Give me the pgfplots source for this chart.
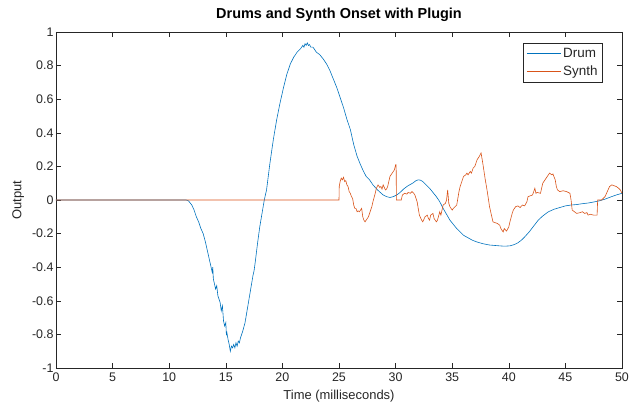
\documentclass[border=0pt]{standalone}
\usepackage{fontspec}
\setmainfont{Liberation Sans}
\usepackage{pgfplots}
\pgfplotsset{compat=1.18}

\definecolor{mblue}{rgb}{0,0.447,0.741}
\definecolor{morange}{rgb}{0.85,0.325,0.098}
\definecolor{axgray}{rgb}{0.15,0.15,0.15}

% Drum response (time in ms, output)
\pgfplotstableread{
t y
0 0
11.5 0
11.7 -0.005
12.0 -0.03
12.2 -0.06
12.4 -0.1
12.6 -0.13
12.8 -0.17
13.0 -0.2
13.2 -0.25
13.4 -0.31
13.6 -0.37
13.7 -0.4
13.8 -0.43
13.85 -0.40
13.9 -0.47
14.0 -0.50
14.1 -0.53
14.2 -0.51
14.3 -0.57
14.5 -0.61
14.6 -0.66
14.7 -0.63
14.8 -0.72
14.9 -0.75
15.0 -0.73
15.05 -0.80
15.1 -0.79
15.2 -0.83
15.3 -0.86
15.4 -0.90
15.5 -0.87
15.6 -0.88
15.7 -0.86
15.8 -0.88
15.9 -0.85
16.0 -0.87
16.1 -0.84
16.2 -0.85
16.3 -0.82
16.5 -0.78
16.7 -0.73
16.9 -0.65
17.0 -0.61
17.2 -0.53
17.4 -0.45
17.5 -0.42
17.6 -0.37
17.8 -0.26
18.0 -0.16
18.2 -0.08
18.4 0.0
18.6 0.06
18.9 0.22
19.2 0.36
19.5 0.48
19.8 0.58
20.1 0.67
20.4 0.75
20.7 0.81
21.0 0.85
21.3 0.88
21.6 0.90
21.8 0.92
21.9 0.91
22.0 0.93
22.1 0.92
22.2 0.935
22.3 0.92
22.4 0.925
22.5 0.91
22.7 0.91
23.0 0.88
23.3 0.865
23.6 0.84
23.9 0.81
24.2 0.77
24.5 0.72
24.8 0.67
25.1 0.61
25.4 0.55
25.7 0.48
26.0 0.42
26.3 0.33
26.6 0.26
26.9 0.21
27.1 0.18
27.4 0.14
27.7 0.12
28.0 0.09
28.4 0.06
28.9 0.03
29.2 0.02
29.5 0.015
29.8 0.02
30.1 0.03
30.4 0.045
30.7 0.065
31.1 0.085
31.5 0.10
31.8 0.115
32.0 0.12
32.2 0.118
32.4 0.11
32.7 0.09
33.0 0.07
33.3 0.045
33.6 0.02
33.9 -0.01
34.2 -0.05
34.5 -0.085
34.8 -0.12
35.1 -0.145
35.4 -0.17
35.7 -0.19
36.0 -0.21
36.4 -0.225
36.8 -0.24
37.2 -0.25
37.7 -0.26
38.3 -0.268
39.0 -0.272
39.6 -0.275
40.1 -0.273
40.5 -0.265
40.8 -0.255
41.1 -0.24
41.4 -0.22
41.8 -0.19
42.2 -0.155
42.6 -0.12
43.0 -0.095
43.5 -0.07
44.0 -0.055
44.5 -0.045
45.0 -0.035
45.5 -0.03
46.0 -0.027
46.5 -0.022
47.0 -0.018
47.5 -0.012
48.0 -0.005
48.5 0.005
49.0 0.018
49.5 0.03
50.0 0.04
}\drum

% Synth response (time in ms, output)
\pgfplotstableread{
t y
0 0
25.0 0
25.02 0.08
25.1 0.11
25.2 0.13
25.3 0.12
25.4 0.135
25.5 0.11
25.6 0.115
25.7 0.09
25.8 0.08
25.9 0.05
26.0 0.04
26.1 0.02
26.2 0.01
26.3 -0.03
26.4 -0.05
26.5 -0.05
26.6 -0.07
26.7 -0.065
26.8 -0.07
26.9 -0.06
27.0 -0.05
27.1 -0.1
27.2 -0.12
27.3 -0.13
27.4 -0.12
27.5 -0.11
27.6 -0.10
27.8 -0.06
27.9 -0.04
28.0 -0.01
28.2 0.04
28.3 0.07
28.45 0.09
28.6 0.075
28.7 0.08
28.8 0.065
28.9 0.09
29.0 0.075
29.1 0.06
29.2 0.065
29.3 0.08
29.5 0.14
29.6 0.15
29.8 0.17
29.9 0.18
30.0 0.21
30.05 0.21
30.07 0.0
30.5 0.0
30.6 0.03
30.8 0.04
31.0 0.035
31.1 0.045
31.3 0.04
31.45 0.05
31.6 0.04
31.7 0.03
31.9 -0.01
32.0 -0.05
32.1 -0.09
32.3 -0.12
32.4 -0.13
32.6 -0.1
32.8 -0.09
32.9 -0.11
33.0 -0.12
33.1 -0.09
33.3 -0.08
33.4 -0.11
33.6 -0.13
33.7 -0.12
33.9 -0.07
34.0 -0.09
34.2 -0.03
34.4 -0.02
34.5 0.0
34.6 0.06
34.7 -0.02
34.8 -0.04
35.0 -0.06
35.1 -0.05
35.4 -0.03
35.6 0.05
35.7 0.08
35.9 0.12
36.0 0.14
36.2 0.15
36.3 0.16
36.4 0.15
36.6 0.17
36.7 0.16
36.85 0.19
37.0 0.2
37.2 0.24
37.4 0.26
37.55 0.28
37.7 0.22
37.9 0.13
38.1 0.05
38.3 -0.04
38.5 -0.1
38.6 -0.13
38.8 -0.135
39.0 -0.14
39.2 -0.15
39.3 -0.17
39.5 -0.19
39.6 -0.17
39.8 -0.185
40.0 -0.16
40.1 -0.13
40.3 -0.08
40.4 -0.06
40.6 -0.04
40.8 -0.035
41.0 -0.045
41.2 -0.03
41.4 -0.035
41.6 -0.01
41.7 0.02
41.9 0.025
42.1 0.03
42.3 0.07
42.4 0.04
42.5 0.045
42.8 0.04
43.0 0.1
43.2 0.12
43.4 0.14
43.6 0.16
43.8 0.15
43.9 0.155
44.1 0.12
44.2 0.08
44.3 0.06
44.5 0.05
44.8 0.055
45.1 0.05
45.4 0.04
45.5 0.0
45.6 -0.06
45.8 -0.07
46.0 -0.08
46.3 -0.075
46.5 -0.07
46.7 -0.08
46.9 -0.075
47.0 -0.09
47.2 -0.085
47.5 -0.09
47.8 -0.09
47.85 0.0
48.2 0.0
48.5 0.02
48.7 0.05
48.9 0.08
49.1 0.09
49.3 0.085
49.5 0.08
49.7 0.07
49.85 0.06
50.0 0.04
}\synth

\begin{document}
\begin{tikzpicture}
\path[use as bounding box] (-56bp,-37bp) rectangle (574bp,368bp);
\begin{axis}[
  at={(0,0)}, anchor=south west,
  scale only axis, width=566bp, height=336bp,
  xmin=0, xmax=50, ymin=-1, ymax=1,
  xtick={0,5,10,15,20,25,30,35,40,45,50},
  ytick={-1,-0.8,-0.6,-0.4,-0.2,0,0.2,0.4,0.6,0.8,1},
  yticklabels={-1,-0.8,-0.6,-0.4,-0.2,0,0.2,0.4,0.6,0.8,1},
  xticklabels={0,5,10,15,20,25,30,35,40,45,50},
  tick align=inside, tick pos=both,
  major tick length=5bp,
  axis line style={axgray, line width=0.5pt},
  every tick/.style={axgray, line width=0.5pt},
  ticklabel style={font=\fontsize{12.5}{14}\selectfont, text=axgray},
  xticklabel style={yshift=-1bp},
  yticklabel style={xshift=1bp},
  title={Drums and Synth Onset with Plugin},
  title style={font=\bfseries\fontsize{14.5}{16}\selectfont, at={(axis description cs:0.5,1)}, anchor=south, yshift=1bp},
  xlabel={Time (milliseconds)},
  xlabel style={font=\fontsize{13}{15}\selectfont, text=axgray, at={(axis description cs:0.5,-0.085)}, anchor=center},
  ylabel={Output},
  ylabel style={font=\fontsize{13}{15}\selectfont, text=axgray, at={(axis description cs:-0.067,0.5)}, anchor=center},
  legend style={at={(0.966,0.967)}, anchor=north east, draw=axgray, font=\fontsize{13.5}{15}\selectfont, text=axgray, legend cell align=left, inner xsep=3bp, inner ysep=3bp, row sep=3bp},
  legend image code/.code={\draw[#1] (0bp,0bp) -- (34bp,0bp);},
]
\addplot[mblue, line width=0.6pt] table[x=t, y=y] {\drum};
\addlegendentry{Drum}
\addplot[morange, line width=0.6pt] table[x=t, y=y] {\synth};
\addlegendentry{Synth}
\end{axis}
\end{tikzpicture}
\end{document}
